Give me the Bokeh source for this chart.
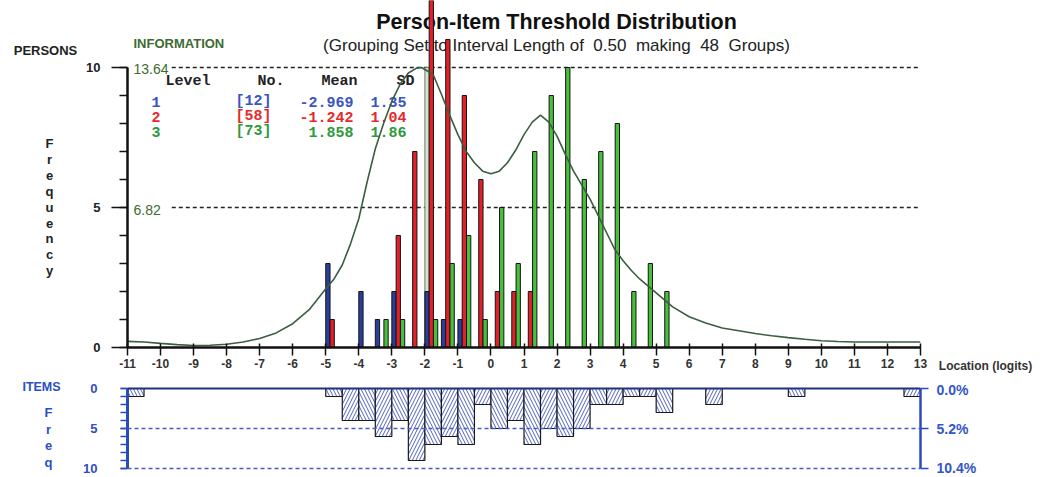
from bokeh.plotting import figure
from bokeh.models import Range1d, LinearAxis, FixedTicker, Label, Span, ColumnDataSource
from bokeh.layouts import column, row
from bokeh.core.properties import value
from bokeh.embed import file_html
from bokeh.resources import INLINE

# ---------------- data ----------------
bin_width = 0.5
person_bins = [-5.0, -4.5, -4.0, -3.5, -3.0, -2.5, -2.0, -1.5, -1.0, -0.5,
               0.0, 0.5, 1.0, 1.5, 2.0, 2.5, 3.0, 3.5, 4.0, 4.5, 5.0]
persons_level1 = [3, 0, 2, 1, 2, 0, 2, 1, 1, 0, 0, 0, 0, 0, 0, 0, 0, 0, 0, 0, 0]
persons_level2 = [1, 0, 0, 0, 4, 7, 14, 11, 9, 6, 2, 2, 2, 0, 0, 0, 0, 0, 0, 0, 0]
persons_level3 = [0, 0, 0, 1, 1, 0, 1, 3, 4, 1, 5, 3, 7, 9, 10, 6, 7, 8, 2, 3, 2]
peak_marker_bin = [-2.0]
peak_marker_height = [10]

item_bins = [-11.0, -5.0, -4.5, -4.0, -3.5, -3.0, -2.5, -2.0, -1.5, -1.0, -0.5, 0.0, 0.5,
             1.0, 1.5, 2.0, 2.5, 3.0, 3.5, 4.0, 4.5, 5.0, 6.5, 9.0, 12.5]
item_counts = [1, 1, 4, 4, 6, 4, 9, 7, 6, 7, 2, 5, 4, 7, 5, 6, 5, 2, 2, 1, 1, 3, 2, 1, 1]

info_x = [-11, -10.5, -10, -9.5, -9, -8.5, -8, -7.5, -7, -6.5,
          -6, -5.5, -5, -4.75, -4.5, -4.25, -4, -3.75, -3.5, -3.25,
          -3, -2.75, -2.5, -2.25, -2.1, -1.75, -1.5, -1.25, -1, -0.75,
          -0.5, -0.25, 0, 0.25, 0.5, 0.75, 1, 1.25, 1.5, 1.75,
          2, 2.25, 2.5, 2.75, 3, 3.25, 3.5, 3.75, 4, 4.25,
          4.5, 4.75, 5, 5.5, 6, 6.5, 7, 7.5, 8, 8.5,
          9, 9.5, 10, 10.5, 11, 12, 13]
info_y = [0.30, 0.27, 0.20, 0.14, 0.10, 0.11, 0.16, 0.27, 0.44, 0.71,
          1.16, 1.84, 2.86, 3.34, 4.02, 5.05, 6.27, 8.05, 9.68, 10.91,
          12.00, 12.82, 13.37, 13.61, 13.64, 13.30, 12.34, 11.32, 10.37, 9.55,
          9.00, 8.59, 8.46, 8.59, 9.00, 9.62, 10.37, 10.98, 11.32, 10.98,
          10.30, 9.41, 8.59, 7.91, 7.23, 6.41, 5.59, 4.77, 4.23, 3.75,
          3.34, 3.00, 2.66, 1.98, 1.50, 1.19, 0.95, 0.82, 0.68, 0.57,
          0.48, 0.40, 0.33, 0.29, 0.27, 0.27, 0.27]
info_max = 13.64          # information value at 10 persons

x_ticks = list(range(-11, 14))
persons_ticks = [0, 5, 10]
items_ticks = [0, 5, 10]

legend_levels = ["1", "2", "3"]
legend_n = [12, 58, 73]
legend_mean = [-2.969, -1.242, 1.858]
legend_sd = [1.35, 1.04, 1.86]

# ---------------- styles / layout (page pixels) ----------------
PAGE_W = 1040
TOP_H = 381
BOT_H = 94
LW = 78             # left text strip
FL = 127            # frame left
FR = 920            # frame right
RW = PAGE_W - (FR + 10)
TOP_BASE = 347      # y of persons 0
ITEM0 = 388         # y of items 0
PX_PER_PERSON = 28.0
PX_PER_ITEM = 8.0
INFO_PER_PERSON = info_max / 10.0
SANS = "Liberation Sans"
MONO = "Liberation Mono"
level_fill = ["#2a3f9c", "#e3202a", "#48c03c"]
level_text = ["#3a54c2", "#e42b2b", "#2e9a3c"]
blue_axis = "#2b4bb8"
blue_text = "#2d4fc0"
bar_w = 0.13
bar_off = [0.0, 0.13, 0.26]
dash_x0 = -9.66

top_ymax = TOP_BASE / PX_PER_PERSON
xr = Range1d(-11, 13)


def strip(width, frame_h, y_top, height):
    f = figure(width=width, height=height, x_range=Range1d(0, width),
               y_range=Range1d(y_top + frame_h, y_top), x_axis_location=None,
               y_axis_location=None, output_backend="svg", toolbar_location=None,
               title=None, min_border=0, outline_line_color=None)
    f.grid.visible = False
    return f


def stext(f, xs, ys, texts, size, color, align="center", style="bold", font=SANS):
    f.text(x=xs, y=ys, text=texts, text_font=value(font), text_font_size=value(f"{size}px"),
           text_font_style=value(style), text_color=color, text_align=align,
           text_baseline="middle")


# ---------------- persons panel ----------------
top = figure(width=FR + 10 - LW, height=TOP_H, x_range=xr, y_range=Range1d(0, top_ymax),
             output_backend="svg", toolbar_location=None, title=None,
             min_border_left=FL - LW, min_border_right=10,
             min_border_top=0, min_border_bottom=TOP_H - TOP_BASE,
             outline_line_color=None, background_fill_color="white")
top.extra_y_ranges = {"info": Range1d(0, top_ymax * INFO_PER_PERSON)}
top.grid.visible = False

xa = top.xaxis[0]
xa.ticker = FixedTicker(ticks=x_ticks)
xa.major_label_overrides = {t: str(t) for t in x_ticks}
xa.axis_line_width = 2.5
xa.axis_line_color = "#111111"
xa.major_tick_in = 4
xa.major_tick_out = 8
xa.major_tick_line_width = 1.5
xa.major_tick_line_color = "#111111"
xa.minor_tick_line_color = None
xa.major_label_standoff = 3
xa.major_label_text_font = SANS
xa.major_label_text_font_size = "12px"
xa.major_label_text_font_style = "bold"
xa.major_label_text_color = "#333333"

ya = top.yaxis[0]
ya.ticker = FixedTicker(ticks=persons_ticks, minor_ticks=list(range(0, 11)))
ya.bounds = (0, 10)
ya.axis_line_width = 2.5
ya.axis_line_color = "#111111"
ya.major_tick_in = 0
ya.major_tick_out = 16
ya.minor_tick_in = 0
ya.minor_tick_out = 8
ya.major_tick_line_width = 1.5
ya.minor_tick_line_width = 1.5
ya.major_tick_line_color = "#111111"
ya.minor_tick_line_color = "#111111"
ya.major_label_standoff = 11
ya.major_label_text_font = SANS
ya.major_label_text_font_size = "13px"
ya.major_label_text_font_style = "bold"
ya.major_label_text_color = "#222222"


def tlabel(text, rx, ry, size, color, align="left", style="bold", font=SANS,
           level="annotation"):
    top.add_layout(Label(x=rx - FL, y=TOP_BASE - ry, x_units="screen", y_units="screen",
                         text=text, text_font=font, text_font_size=f"{size}px",
                         text_font_style=style, text_color=color, text_align=align,
                         text_baseline="middle", level=level))


# title
tlabel("Person-Item Threshold Distribution", 556, 21, 21.5, "#111111",
       align="center", level="underlay")
tlabel("(Grouping Set to Interval Length of\u00a0 0.50\u00a0 making\u00a0 48\u00a0 Groups)",
       556, 45, 17, "#222222", align="center", style="normal", level="underlay")

# reference dashed lines
for lv in persons_ticks[1:]:
    top.segment(x0=[dash_x0], x1=[xr.end], y0=[lv], y1=[lv], line_color="#222222",
                line_width=1.5, line_dash="4 3")

# marker bar
top.vbar(x=[b + bar_w / 2 for b in peak_marker_bin], top=peak_marker_height, width=bar_w,
         fill_color="#d6e2d0", line_color="#6c7c6c", line_width=1)

# person bars
for i, series in enumerate([persons_level1, persons_level2, persons_level3]):
    xs = [b + bar_off[i] + bar_w / 2 for b, c in zip(person_bins, series) if c > 0]
    hs = [c for c in series if c > 0]
    top.vbar(x=xs, top=hs, width=bar_w, bottom=0, fill_color=level_fill[i],
             line_color="#151515", line_width=1)

# information curve
top.line(x=info_x, y=info_y, y_range_name="info", line_color="#3b5e40", line_width=1.6)

tlabel("INFORMATION", 133, 43, 13, "#3d6b30")
tlabel(f"{10 * INFO_PER_PERSON:.2f}", 133, 68, 14, "#3d6b30", style="normal")
tlabel(f"{5 * INFO_PER_PERSON:.2f}", 133, 209, 14, "#3d6b30", style="normal")

# legend table
tlabel("Level", 165, 81, 15, "#222222", font=MONO, level="underlay")
tlabel("No.", 257, 81, 15, "#222222", font=MONO, level="underlay")
tlabel("Mean", 321, 81, 15, "#222222", font=MONO, level="underlay")
tlabel("SD", 396, 81, 15, "#222222", font=MONO, level="underlay")
for k in range(3):
    ry = 101 + 15 * k
    c = level_text[k]
    tlabel(legend_levels[k], 151, ry, 15, c, font=MONO, level="underlay")
    tlabel(f"[{legend_n[k]}]", 235, ry, 15, c, font=MONO, level="underlay")
    tlabel(f"{legend_mean[k]:.3f}", 353, ry, 15, c, align="right", font=MONO, level="underlay")
    tlabel(f"{legend_sd[k]:.2f}", 370, ry, 15, c, font=MONO, level="underlay")

# side strips of the persons panel (their frames line up with the persons frame)
left_top = strip(LW, TOP_BASE, 0, TOP_H)
stext(left_top, [45], [50], ["PERSONS"], 13, "#222222")
letters = list("Frequency")
stext(left_top, [49] * len(letters), [143 + 15.9 * k for k in range(len(letters))],
      letters, 13, "#222222")

right_top = figure(width=RW, height=TOP_H, x_range=Range1d(0, 1), y_range=Range1d(0, 1),
                   y_axis_location=None, output_backend="svg", toolbar_location=None,
                   title=None, min_border=0, outline_line_color=None)
right_top.grid.visible = False
rx_ax = right_top.xaxis[0]
rx_ax.ticker = FixedTicker(ticks=[])
rx_ax.axis_line_color = None
rx_ax.major_tick_line_color = None
rx_ax.minor_tick_line_color = None
rx_ax.major_tick_out = 0
rx_ax.major_tick_in = 0
rx_ax.major_label_standoff = 0
rx_ax.axis_label = "Location (logits)"
rx_ax.axis_label_standoff = 11
rx_ax.axis_label_text_font = SANS
rx_ax.axis_label_text_font_size = "12px"
rx_ax.axis_label_text_font_style = "bold"
rx_ax.axis_label_text_color = "#333333"

# ---------------- items panel ----------------
bot = figure(width=PAGE_W - LW, height=BOT_H, x_range=xr,
             y_range=Range1d(10 + (TOP_H + BOT_H - 468) / PX_PER_ITEM,
                             -(ITEM0 - TOP_H) / PX_PER_ITEM),
             x_axis_location=None, output_backend="svg", toolbar_location=None, title=None,
             min_border_left=FL - LW, min_border_right=PAGE_W - FR,
             min_border_top=0, min_border_bottom=0,
             outline_line_color=None, background_fill_color="white")
bot.grid.visible = False

for lv in items_ticks[1:]:
    bot.add_layout(Span(location=lv, dimension="width", line_color="#4a5cc4",
                        line_width=1.5, line_dash="4 3"))

patterns = ["\\" if round((b - xr.start) / bin_width) % 2 == 0 else "/" for b in item_bins]
src = ColumnDataSource(dict(left=item_bins, right=[b + bin_width for b in item_bins],
                            bottom=item_counts, top=[0] * len(item_bins), pat=patterns))
bot.quad(left="left", right="right", top="top", bottom="bottom", source=src,
         fill_color="white", line_color="#1a1a1a", line_width=1.2,
         hatch_pattern="pat", hatch_color="#5264bd", hatch_scale=7, hatch_weight=1)

bot.add_layout(Span(location=0, dimension="width", line_color="#23307a", line_width=2))

ly = bot.yaxis[0]
ly.ticker = FixedTicker(ticks=items_ticks, minor_ticks=list(range(0, 11)))
ly.bounds = (0, 10)
ly.axis_line_width = 3
ly.axis_line_color = blue_axis
ly.major_tick_in = 0
ly.major_tick_out = 7
ly.minor_tick_in = 0
ly.minor_tick_out = 7
ly.major_tick_line_color = blue_axis
ly.minor_tick_line_color = blue_axis
ly.major_tick_line_width = 1.5
ly.minor_tick_line_width = 1.5
ly.major_label_standoff = 23
ly.major_label_text_font = SANS
ly.major_label_text_font_size = "13px"
ly.major_label_text_font_style = "bold"
ly.major_label_text_color = blue_text

total_items = sum(item_counts)
pct_labels = {t: f"{t / total_items * 100:.1f}%" for t in items_ticks}
ry_ax = LinearAxis(ticker=FixedTicker(ticks=items_ticks), bounds=(0, 10),
                   major_label_overrides=pct_labels)
ry_ax.axis_line_width = 2.5
ry_ax.axis_line_color = blue_axis
ry_ax.major_tick_in = 0
ry_ax.major_tick_out = 8
ry_ax.major_tick_line_color = blue_axis
ry_ax.major_tick_line_width = 1.5
ry_ax.minor_tick_line_color = None
ry_ax.major_label_standoff = 8
ry_ax.major_label_text_font = SANS
ry_ax.major_label_text_font_size = "14px"
ry_ax.major_label_text_font_style = "bold"
ry_ax.major_label_text_color = "#3356c8"
bot.add_layout(ry_ax, "right")

left_bot = strip(LW, BOT_H, TOP_H, BOT_H)
stext(left_bot, [41], [386], ["ITEMS"], 12.5, blue_text)
fl = list("Freq")
stext(left_bot, [48] * len(fl), [412 + 16.7 * k for k in range(len(fl))], fl, 13, blue_text)

layout = column(row(left_top, top, right_top), row(left_bot, bot))
open("out.html", "w").write(file_html(layout, INLINE))
